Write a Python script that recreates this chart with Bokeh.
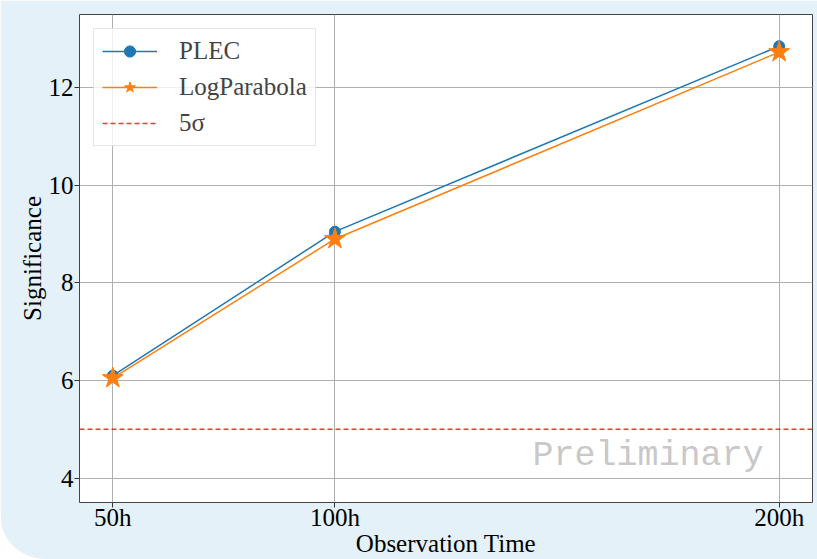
from bokeh.plotting import figure
from bokeh.models import Span, Label, Legend, LegendItem, ColumnDataSource, FixedTicker, Range1d
from bokeh.embed import file_html
from bokeh.resources import INLINE

# data
hours = [50, 100, 200]
tick_labels = ["50h", "100h", "200h"]
plec = [6.10, 9.05, 12.85]
logpar = [6.05, 8.90, 12.73]
threshold = 5
y_ticks = [4, 6, 8, 10, 12]

SERIF = "Liberation Serif"
BG = "#e4f1f8"

p = figure(width=817, height=559, output_backend="svg", toolbar_location=None,
           x_range=Range1d(42.5, 207.5), y_range=Range1d(3.5, 13.5),
           min_border_left=79, min_border_right=5, min_border_top=14, min_border_bottom=56)
p.border_fill_color = BG
p.background_fill_color = "white"
p.outline_line_color = "#444444"
p.outline_line_width = 1
p.styles = {"border-radius": "0px 0px 0px 45px", "overflow": "hidden"}

p.xaxis.ticker = FixedTicker(ticks=hours)
p.xaxis.major_label_overrides = {h: t for h, t in zip(hours, tick_labels)}
p.yaxis.ticker = FixedTicker(ticks=y_ticks)
for ax in (p.xaxis, p.yaxis):
    ax.major_label_text_font = SERIF
    ax.major_label_text_font_size = "25px"
    ax.major_label_text_color = "black"
    ax.axis_label_text_font = SERIF
    ax.axis_label_text_font_size = "25px"
    ax.axis_label_text_font_style = "normal"
    ax.axis_label_text_color = "black"
    ax.axis_line_color = None
    ax.major_tick_line_color = "#333333"
    ax.major_tick_out = 5
    ax.major_tick_in = 0
    ax.minor_tick_line_color = None
p.xaxis.axis_label = "Observation Time"
p.yaxis.axis_label = "Significance"
p.xaxis.major_label_standoff = -4
p.xaxis.axis_label_standoff = -4
p.yaxis.major_label_standoff = 1
p.yaxis.axis_label_standoff = 0

p.grid.grid_line_color = "#b0b0b0"
p.grid.grid_line_width = 1

src = ColumnDataSource(dict(x=hours, plec=plec, logpar=logpar))

span = Span(location=threshold, dimension="width", line_color="red", line_alpha=0.8,
            line_width=1.5, line_dash="5 3")
p.add_layout(span)

l1 = p.line("x", "plec", source=src, line_color="#1f77b4", line_width=1.5)
m1 = p.scatter("x", "plec", source=src, marker="circle", size=11,
               fill_color="#1f77b4", line_color="#1f77b4")
l2 = p.line("x", "logpar", source=src, line_color="#ff7f0e", line_width=1.5)
m2 = p.scatter("x", "logpar", source=src, marker="star", size=22,
               fill_color="#ff7f0e", line_color="#ff7f0e")
nan = float("nan")
sig = p.line(x=hours, y=[nan] * len(hours), line_color="red", line_alpha=0.8,
             line_width=1.5, line_dash="5 3")

prelim = Label(x=196.5, y=4.46, text="Preliminary", text_align="right",
               text_baseline="alphabetic", text_font="Liberation Mono",
               text_font_size="35px", text_color="#c8c8c8")
p.add_layout(prelim)

legend = Legend(items=[
    LegendItem(label="PLEC", renderers=[l1, m1]),
    LegendItem(label="LogParabola", renderers=[l2, m2]),
    LegendItem(label="5σ", renderers=[sig]),
], location="top_left")
legend.label_text_font = SERIF
legend.label_text_font_size = "25px"
legend.glyph_width = 55
legend.glyph_height = 28
legend.label_height = 28
legend.spacing = 8
legend.padding = 8
legend.margin = 14
legend.label_standoff = 22
legend.border_line_color = "#cccccc"
legend.border_line_width = 1
legend.background_fill_color = "white"
legend.background_fill_alpha = 0.8
p.add_layout(legend)

open("out.html", "w").write(file_html(p, INLINE))
